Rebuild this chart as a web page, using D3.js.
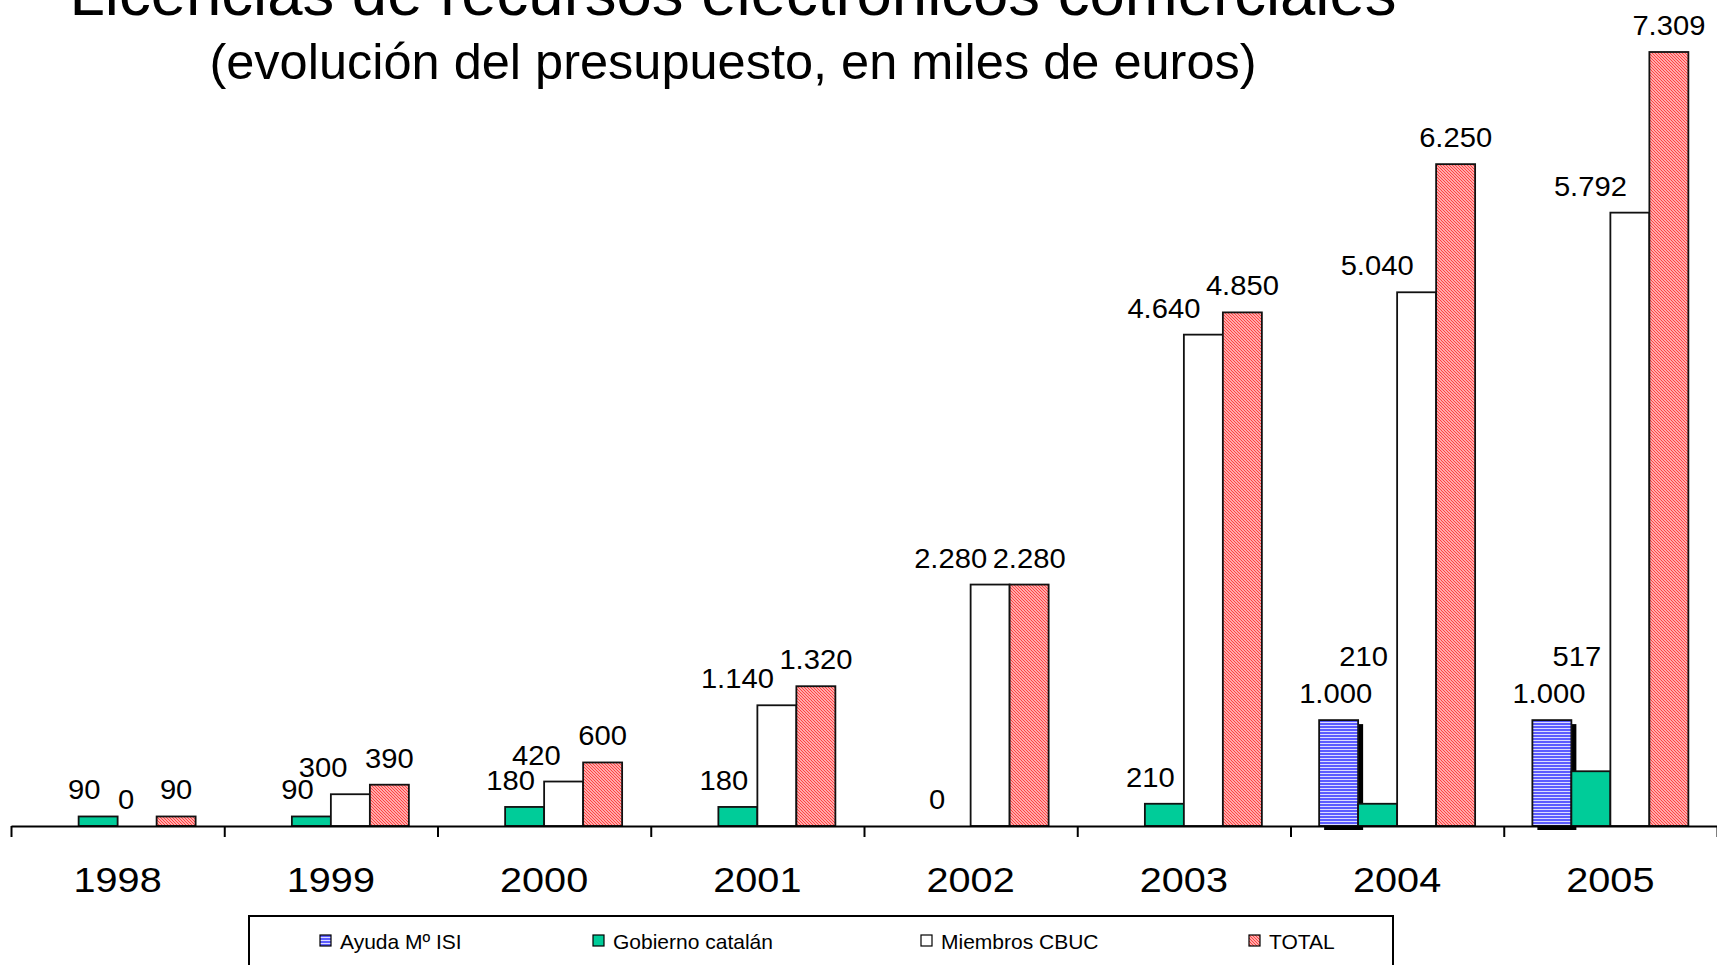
<!DOCTYPE html>
<html>
<head>
<meta charset="utf-8">
<script src="https://cdn.jsdelivr.net/npm/d3@7"></script>
<style>
  body { margin: 0; background: #fff; }
  text { font-family: "Liberation Sans", Arial, sans-serif; fill: #000; }
</style>
</head>
<body>
<div id="chart"></div>
<script>
// Data
var years = ["1998", "1999", "2000", "2001", "2002", "2003", "2004", "2005"];
var seriesNames = ["Ayuda Mº ISI", "Gobierno catalán", "Miembros CBUC", "TOTAL"];
var ayudaISI = [null, null, null, null, null, null, 1000, 1000];
var gobiernoCatalan = [90, 90, 180, 180, 0, 210, 210, 517];
var miembrosCBUC = [0, 300, 420, 1140, 2280, 4640, 5040, 5792];
var totalValues = [90, 390, 600, 1320, 2280, 4850, 6250, 7309];
var titleText = "Licencias de recursos electrónicos comerciales";
var subtitleText = "(evolución del presupuesto, en miles de euros)";

var seriesValues = [ayudaISI, gobiernoCatalan, miembrosCBUC, totalValues];

var svgWidth = 1717;
var svgHeight = 965;

var svg = d3.select("#chart")
  .append("svg")
  .attr("width", svgWidth)
  .attr("height", svgHeight);

svg.append("rect")
  .attr("width", svgWidth)
  .attr("height", svgHeight)
  .attr("fill", "#fff");

// patterns
var defs = svg.append("defs");

var blueStripes = defs.append("pattern")
  .attr("id", "blueStripes")
  .attr("patternUnits", "userSpaceOnUse")
  .attr("width", 4).attr("height", 3);
blueStripes.append("rect").attr("width", 4).attr("height", 3).attr("fill", "#dcdcff");
blueStripes.append("rect").attr("width", 4).attr("height", 2).attr("fill", "#5c5cff");

var redHatch = defs.append("pattern")
  .attr("id", "redHatch")
  .attr("patternUnits", "userSpaceOnUse")
  .attr("width", 3).attr("height", 3);
redHatch.append("rect").attr("width", 3).attr("height", 3).attr("fill", "#ffdcdc");
redHatch.append("path")
  .attr("d", "M-1,-1 L4,4 M-1,2 L1,4 M2,-1 L4,1")
  .attr("stroke", "#ff3c3c")
  .attr("stroke-width", 1.2);

var fills = ["url(#blueStripes)", "#00cc99", "#ffffff", "url(#redHatch)"];

// label placement per series (style only)
var labelAnchor = ["middle", "middle", "end", "middle"];
var labelDx = [-3, -14, -3, 0];

// Spanish number format
var esLocale = d3.formatLocale({ decimal: ",", thousands: ".", grouping: [3], currency: ["", " €"] });
var fmt = esLocale.format(",");

// Scales
var x0 = d3.scaleBand()
  .domain(years)
  .range([11, 1717])
  .paddingInner(0.2685)
  .paddingOuter(0.13425);

var x1 = d3.scaleBand()
  .domain(d3.range(seriesNames.length))
  .range([0, x0.bandwidth()]);

var y = d3.scaleLinear()
  .domain([0, 7309])
  .range([826, 52]);

var tickScale = d3.scaleLinear()
  .domain([0, years.length])
  .range([11, 1717]);

// Titles
svg.append("text")
  .attr("x", 733)
  .attr("y", 15)
  .attr("text-anchor", "middle")
  .style("font-size", "63.5px")
  .text(titleText);

svg.append("text")
  .attr("x", 733)
  .attr("y", 79)
  .attr("text-anchor", "middle")
  .style("font-size", "50.5px")
  .text(subtitleText);

// flatten data
var barData = [];
seriesValues.forEach(function(vals, s) {
  vals.forEach(function(v, i) {
    if (v !== null) barData.push({ s: s, year: years[i], value: v, i: i });
  });
});

var chartGroup = svg.append("g");

// shadow behind the blue bars
chartGroup.selectAll(".shadow")
  .data(barData.filter(function(d) { return d.s === 0; }))
  .enter()
  .append("rect")
  .attr("class", "shadow")
  .attr("x", function(d) { return x0(d.year) + x1(d.s) + 5; })
  .attr("y", function(d) { return y(d.value) + 4; })
  .attr("width", x1.bandwidth())
  .attr("height", function(d) { return y(0) - y(d.value); })
  .attr("fill", "#000");

chartGroup.selectAll(".bar")
  .data(barData)
  .enter()
  .append("rect")
  .attr("class", "bar")
  .attr("x", function(d) { return x0(d.year) + x1(d.s); })
  .attr("y", function(d) { return y(d.value); })
  .attr("width", x1.bandwidth())
  .attr("height", function(d) { return y(0) - y(d.value); })
  .attr("fill", function(d) { return fills[d.s]; })
  .attr("stroke", "#111")
  .attr("stroke-width", 1.8);

// Axis: tick marks at category boundaries
var tickAxis = d3.axisBottom(tickScale)
  .tickValues(d3.range(0, years.length + 1))
  .tickFormat("")
  .tickSize(11)
  .tickSizeOuter(0);

var tickG = svg.append("g")
  .attr("transform", "translate(0, 826)")
  .call(tickAxis);
tickG.select(".domain").attr("stroke", "#000").attr("stroke-width", 2.2);
tickG.selectAll(".tick line").attr("stroke", "#000").attr("stroke-width", 2);

// year labels
var yearAxis = d3.axisBottom(x0)
  .tickSize(0)
  .tickPadding(0);

var yearG = svg.append("g")
  .attr("transform", "translate(0, 892)")
  .call(yearAxis);
yearG.select(".domain").remove();
yearG.selectAll("text")
  .attr("y", 0)
  .attr("dy", null)
  .attr("transform", "scale(1.1,1)")
  .attr("fill", "#000")
  .style("font-family", "'Liberation Sans', Arial, sans-serif")
  .style("font-size", "36px");

// value labels
function labelX(d) {
  return x0(d.year) + x1(d.s) + x1.bandwidth() / 2 + labelDx[d.s];
}
function labelY(d) {
  if (d.s === 1 && ayudaISI[d.i] !== null) {
    return y(ayudaISI[d.i]) - 17 - 37;
  }
  return y(d.value) - 17;
}

chartGroup.selectAll(".vlabel")
  .data(barData)
  .enter()
  .append("text")
  .attr("class", "vlabel")
  .attr("transform", function(d) { return "translate(" + labelX(d) + "," + labelY(d) + ") scale(1.08,1)"; })
  .attr("text-anchor", function(d) { return labelAnchor[d.s]; })
  .style("font-size", "27px")
  .text(function(d) { return fmt(d.value); });

// Legend
var legendX = [320, 593, 921, 1249];

svg.append("rect")
  .attr("x", 249)
  .attr("y", 916)
  .attr("width", 1144)
  .attr("height", 80)
  .attr("fill", "#fff")
  .attr("stroke", "#000")
  .attr("stroke-width", 2);

var legend = svg.selectAll(".legend")
  .data(seriesNames)
  .enter()
  .append("g")
  .attr("class", "legend")
  .attr("transform", function(d, i) { return "translate(" + legendX[i] + ", 935)"; });

legend.append("rect")
  .attr("width", 11)
  .attr("height", 11)
  .attr("fill", function(d, i) { return fills[i]; })
  .attr("stroke", "#000")
  .attr("stroke-width", 1.2);

legend.append("text")
  .attr("x", 20)
  .attr("y", 13.5)
  .style("font-size", "21px")
  .text(function(d) { return d; });
</script>
</body>
</html>
